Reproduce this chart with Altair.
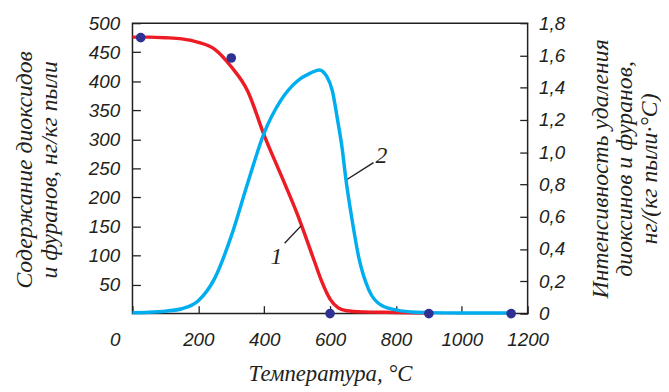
import altair as alt
import pandas as pd

# ---- data ----
t_red = [0, 50, 100, 150, 200, 250, 300, 350, 400, 450, 500, 550, 575, 600, 625, 650, 700, 800, 900]
content = [476, 476, 475, 473, 467, 455, 425, 383, 307, 240, 172, 94, 55, 25, 10, 5, 3, 2, 1]

t_blue = [0, 50, 100, 150, 200, 250, 300, 350, 400, 450, 500, 540, 567, 590, 607, 622, 637,
          647, 667, 687, 717, 757, 807, 850, 900, 1000, 1150]
intensity = [0.005, 0.008, 0.015, 0.03, 0.08, 0.22, 0.48, 0.81, 1.12, 1.32, 1.44, 1.49, 1.51,
             1.47, 1.38, 1.21, 1.02, 0.85, 0.58, 0.35, 0.15, 0.05, 0.02, 0.01, 0.006, 0.004, 0.004]

t_dots = [25, 300, 600, 900, 1150]
dots = [475, 440, 0, 0, 0]

lead_t = [462, 512, 732, 649]
lead_v = [121, 151, 260, 230]
lead_g = ["1", "1", "2", "2"]

lab_t = [437, 756]
lab_v = [98, 271]
lab_txt = ["1", "2"]

x_ticks = [0, 200, 400, 600, 800, 1000, 1200]
yl_ticks = [50, 100, 150, 200, 250, 300, 350, 400, 450, 500]
yr_ticks = [0, 0.2, 0.4, 0.6, 0.8, 1.0, 1.2, 1.4, 1.6, 1.8]

left_title = ["Содержание диоксидов", "и фуранов, нг/кг пыли"]
right_title = ["Интенсивность удаления", "диоксинов и фуранов,", "нг/(кг пыли·°С)"]
x_title = "Температура, °С"

df_red = pd.DataFrame({"T": t_red, "v": content})
df_blue = pd.DataFrame({"T": t_blue, "v": intensity})
df_dots = pd.DataFrame({"T": t_dots, "v": dots})
df_lead = pd.DataFrame({"T": lead_t, "v": lead_v, "g": lead_g})
df_lab = pd.DataFrame({"T": lab_t, "v": lab_v, "txt": lab_txt})

INK = "#231F20"
SANS = "Liberation Sans"
SERIF = "Liberation Serif"

xscale = alt.Scale(domain=[0, 1200], nice=False, zero=False)
ylscale = alt.Scale(domain=[0, 500], nice=False)
yrscale = alt.Scale(domain=[0, 1.8], nice=False)

x_axis = alt.Axis(
    values=x_ticks, orient="bottom", offset=-8, tickSize=8, domain=False, grid=False,
    labelPadding=17, labelFont=SANS, labelFontStyle="italic", labelFontSize=19,
    labelColor=INK, tickColor=INK, tickWidth=1.3, labelFlush=False,
    labelExpr="format(datum.value, 'd')",
    labelOffset={"condition": {"test": "datum.value == 0", "value": -18}, "value": 0},
    title=x_title, titleFont=SERIF, titleFontStyle="italic", titleFontWeight="normal",
    titleFontSize=23, titleColor=INK, titleX=200, titleY=76, titleBaseline="alphabetic",
    titleAlign="center",
)

yl_axis = alt.Axis(
    values=yl_ticks, orient="left", offset=-8, tickSize=8, domain=False, grid=False,
    labelPadding=13, labelFont=SANS, labelFontStyle="italic", labelFontSize=19,
    labelColor=INK, tickColor=INK, tickWidth=1.3,
    title=left_title, titleFont=SERIF, titleFontStyle="italic", titleFontWeight="normal",
    titleFontSize=24, titleColor=INK, titleAngle=270, titleX=-110, titleY=148,
    titleBaseline="alphabetic", titleAlign="center", titleLineHeight=25,
)

yr_axis = alt.Axis(
    values=yr_ticks, orient="right", offset=-8, tickSize=8, domain=False, grid=False,
    labelPadding=11, labelFont=SANS, labelFontStyle="italic", labelFontSize=19,
    labelColor=INK, tickColor=INK, tickWidth=1.3,
    labelExpr="datum.value == 0 ? '0' : replace(format(datum.value, '.1f'), '.', ',')",
    title=right_title, titleFont=SERIF, titleFontStyle="italic", titleFontWeight="normal",
    titleFontSize=24, titleColor=INK, titleAngle=270, titleX=89, titleY=147,
    titleBaseline="alphabetic", titleAlign="center", titleLineHeight=24.5,
)

red = alt.Chart(df_red).mark_line(color="#ED1C24", strokeWidth=3.5, interpolate="monotone").encode(
    x=alt.X("T:Q", scale=xscale, axis=x_axis),
    y=alt.Y("v:Q", scale=ylscale, axis=yl_axis),
)

lead = alt.Chart(df_lead).mark_line(color=INK, strokeWidth=1.4).encode(
    x=alt.X("T:Q", scale=xscale),
    y=alt.Y("v:Q", scale=ylscale, axis=None),
    detail="g:N",
)

labels = alt.Chart(df_lab).mark_text(
    font=SERIF, fontStyle="italic", fontSize=24, color=INK, align="center", baseline="middle"
).encode(
    x=alt.X("T:Q", scale=xscale),
    y=alt.Y("v:Q", scale=ylscale, axis=None),
    text="txt:N",
)

blue = alt.Chart(df_blue).mark_line(color="#00AEEF", strokeWidth=3.5, interpolate="monotone").encode(
    x=alt.X("T:Q", scale=xscale),
    y=alt.Y("v:Q", scale=yrscale, axis=yr_axis),
)

pts = alt.Chart(df_dots).mark_circle(color="#2E3192", size=95, opacity=1).encode(
    x=alt.X("T:Q", scale=xscale),
    y=alt.Y("v:Q", scale=ylscale, axis=None),
)

chart = alt.layer(red, lead, labels, blue, pts).resolve_scale(y="independent").properties(
    width=400, height=294,
    autosize=alt.AutoSizeParams(type="none"),
    padding={"left": 126, "top": 13, "right": 135, "bottom": 77},
    background="white",
).configure_view(stroke=INK, strokeWidth=1.5)

chart.save("out.html", embed_options={"renderer": "svg", "actions": False})
